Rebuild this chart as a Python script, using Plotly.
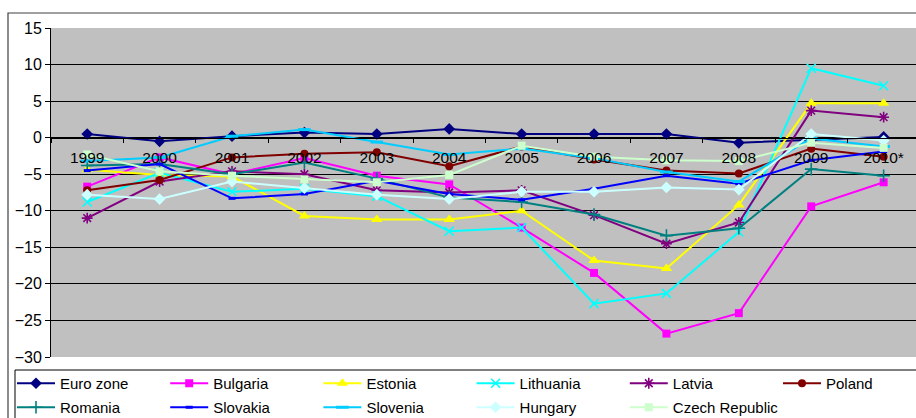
import plotly.graph_objects as go

# Current account balance, % of GDP
years = ['1999', '2000', '2001', '2002', '2003', '2004', '2005', '2006',
         '2007', '2008', '2009', '2010*']

euro_zone = [0.5, -0.5, 0.2, 0.7, 0.5, 1.2, 0.5, 0.5, 0.5, -0.7, -0.3, 0.1]
bulgaria = [-6.7, -2.7, -5.0, -2.8, -5.2, -6.4, -12.3, -18.5, -26.8, -24.0, -9.4, -6.1]
estonia = [-4.4, -5.1, -5.3, -10.7, -11.2, -11.2, -10.0, -16.8, -17.9, -9.2, 4.7, 4.7]
lithuania = [-8.8, -4.8, -7.4, -7.0, -8.0, -12.8, -12.3, -22.7, -21.3, -12.9, 9.5, 7.1]
latvia = [-11.0, -6.0, -4.6, -5.0, -7.2, -7.5, -7.2, -10.6, -14.5, -11.6, 3.7, 2.8]
poland = [-7.2, -5.8, -2.7, -2.2, -2.0, -3.9, -1.2, -3.0, -4.5, -4.9, -1.5, -2.6]
romania = [-3.8, -3.6, -5.0, -3.4, -5.6, -8.2, -8.8, -10.5, -13.4, -12.4, -4.3, -5.2]
slovakia = [-4.5, -3.6, -8.3, -7.7, -5.9, -7.7, -8.5, -7.0, -5.2, -6.3, -3.1, -1.9]
slovenia = [-3.2, -2.7, 0.2, 1.1, -0.6, -2.3, -1.5, -2.8, -4.7, -6.0, -0.1, -1.2]
hungary = [-7.8, -8.4, -6.0, -6.9, -7.8, -8.4, -7.4, -7.4, -6.8, -7.1, 0.5, -0.4]
czech = [-2.3, -4.6, -5.2, -5.7, -6.1, -5.1, -1.1, -2.6, -3.1, -3.2, -0.7, -1.4]

y_ticks = [15, 10, 5, 0, -5, -10, -15, -20, -25, -30]

# name, values, colour, marker symbol, marker size, legend group
series = [
    ('Euro zone', euro_zone, '#000080', 'diamond', 9, 'legend'),
    ('Bulgaria', bulgaria, '#FF00FF', 'square', 8, 'legend'),
    ('Estonia', estonia, '#FFFF00', 'triangle-up', 10, 'legend'),
    ('Lithuania', lithuania, '#00FFFF', 'x-thin-open', 9, 'legend'),
    ('Latvia', latvia, '#800080', 'asterisk-open', 9, 'legend'),
    ('Poland', poland, '#800000', 'circle', 8, 'legend'),
    ('Romania', romania, '#008080', 'cross-thin-open', 9, 'legend2'),
    ('Slovakia', slovakia, '#0000FF', 'line-ew-open', 5, 'legend2'),
    ('Slovenia', slovenia, '#00CCFF', 'line-ew-open', 9, 'legend2'),
    ('Hungary', hungary, '#CCFFFF', 'diamond', 9, 'legend2'),
    ('Czech Republic', czech, '#CCFFCC', 'square', 8, 'legend2'),
]

fig = go.Figure()
for name, vals, color, sym, size, leg in series:
    open_sym = sym.endswith('-open')
    marker = dict(symbol=sym, size=size, color=color)
    if open_sym:
        marker['line'] = dict(color=color, width=3 if sym.startswith('line') else 1.6)
    else:
        marker['line'] = dict(width=0)
    last = name in ('Poland', 'Czech Republic')
    fig.add_trace(go.Scatter(
        x=years, y=vals, name=name, mode='lines+markers',
        line=dict(color=color, width=2),
        marker=marker, legend=leg,
        legendwidth=(110 if name == 'Czech Republic' else 60) if last else None,
    ))

W, H = 916, 418
ml, mt, mb = 51, 28, 61
pw, ph = W - ml, H - mt - mb


def px_x(p):
    return (p - ml) / pw


def px_y(p):
    return (H - mb - p) / ph


font = 'Liberation Sans, Arial, sans-serif'
legend_style = dict(
    orientation='h', x=px_x(12), xanchor='left', yanchor='top',
    itemwidth=38, entrywidth=100.2, entrywidthmode='pixels',
    font=dict(size=15, family=font, color='black'),
    bgcolor='rgba(0,0,0,0)', borderwidth=0,
)

fig.update_layout(
    width=W, height=H,
    margin=dict(l=ml, r=0, t=mt, b=mb, pad=0, autoexpand=False),
    paper_bgcolor='white',
    plot_bgcolor='#C0C0C0',
    font=dict(family=font, color='black'),
    xaxis=dict(
        type='category', range=[-0.5, 11.447],
        anchor='free', position=30 / 45,
        showgrid=False, zeroline=False,
        showline=True, linecolor='black', linewidth=1,
        ticks='outside', tickson='boundaries', ticklen=4, tickcolor='black',
        ticklabelstandoff=6,
        tickfont=dict(size=15.5, family=font, color='black'),
    ),
    yaxis=dict(
        range=[-30, 15], tickvals=y_ticks,
        showgrid=True, gridcolor='black', gridwidth=1,
        zeroline=False,
        showline=True, linecolor='black', linewidth=1,
        ticks='outside', ticklen=5, tickcolor='black',
        tickfont=dict(size=16, family=font, color='black'),
    ),
    legend=dict(legend_style, y=px_y(367)),
    legend2=dict(legend_style, y=px_y(391)),
    showlegend=True,
    shapes=[
        # outer chart frame
        dict(type='rect', xref='paper', yref='paper',
             x0=px_x(8), x1=1.2, y0=-0.5, y1=px_y(13),
             line=dict(color='#404040', width=1.2), layer='below'),
        # legend frame
        dict(type='rect', xref='paper', yref='paper',
             x0=px_x(15), x1=1.2, y0=-0.5, y1=px_y(370),
             line=dict(color='black', width=1), layer='below'),
    ],
)

fig.write_html('out.html')
